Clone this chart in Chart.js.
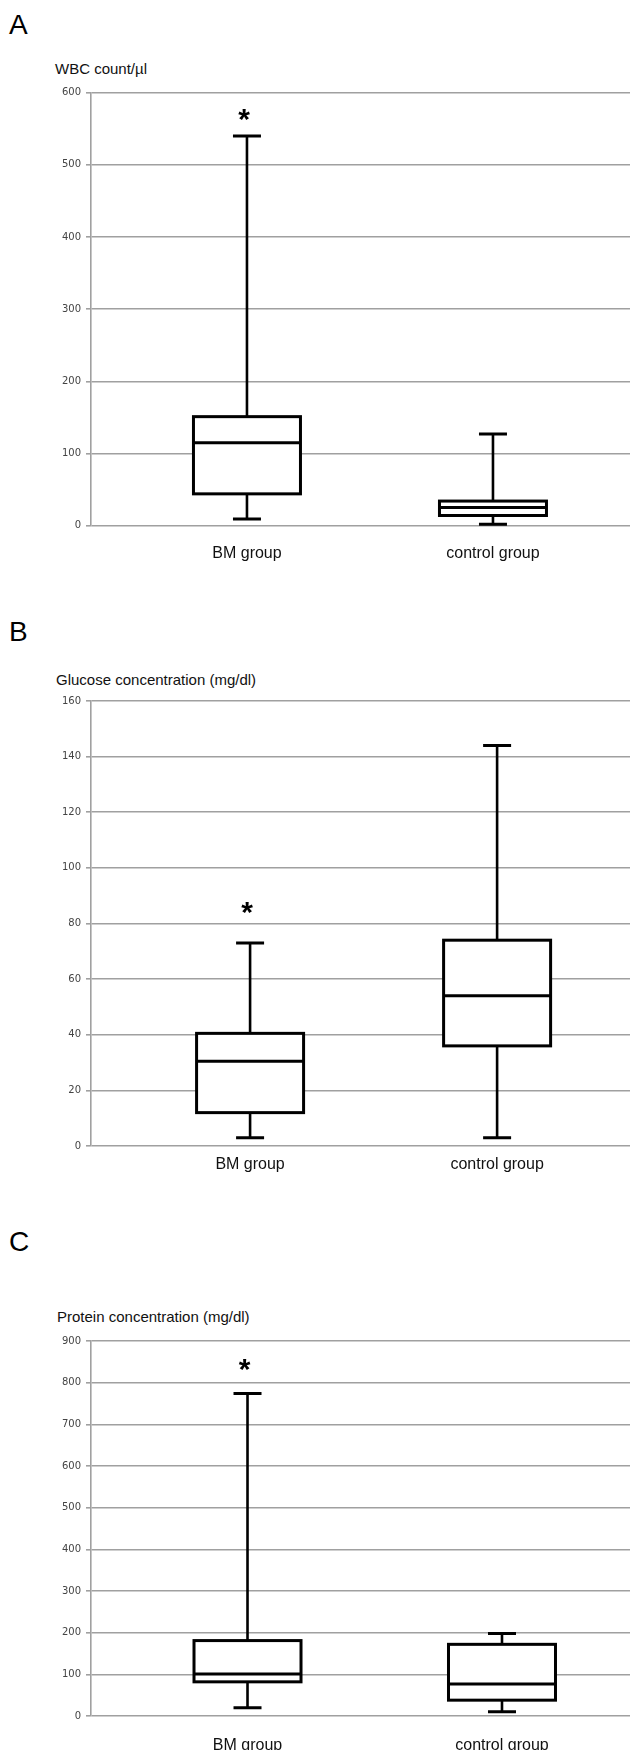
<!DOCTYPE html>
<html><head><meta charset="utf-8">
<script src="https://cdn.jsdelivr.net/npm/chart.js@4/dist/chart.umd.min.js"></script>
<style>
body{margin:0;background:#fff;width:630px;height:1750px;position:relative;overflow:hidden;font-family:"Liberation Sans",Arial,sans-serif;}
.letter{position:absolute;font-size:28px;color:#000;line-height:1;}
.ytitle{position:absolute;font-size:15px;color:#111;line-height:1;white-space:nowrap;}
canvas{position:absolute;left:0;}
</style></head><body>
<div class="letter" style="left:9px;top:11px">A</div>
<div class="ytitle" style="left:55px;top:61px">WBC count/µl</div>
<canvas id="cA" width="630" height="500" style="top:80px"></canvas>

<div class="letter" style="left:9px;top:618px">B</div>
<div class="ytitle" style="left:56px;top:672px">Glucose concentration (mg/dl)</div>
<canvas id="cB" width="630" height="500" style="top:688px"></canvas>

<div class="letter" style="left:9px;top:1228px">C</div>
<div class="ytitle" style="left:57px;top:1309px">Protein concentration (mg/dl)</div>
<canvas id="cC" width="630" height="422" style="top:1328px"></canvas>

<script>
// ---- data ----
const categories = ['BM group', 'control group'];

// Panel A: WBC count/µl
const wbcMin    = [9, 2];
const wbcQ1     = [44, 14];
const wbcMedian = [115, 25];
const wbcQ3     = [151, 34];
const wbcMax    = [540, 127];
const wbcStar   = [567, null];
const wbcTicks  = [0, 600, 100];   // min, max, step

// Panel B: Glucose concentration (mg/dl)
const gluMin    = [3, 3];
const gluQ1     = [12, 36];
const gluMedian = [30.5, 54];
const gluQ3     = [40.5, 74];
const gluMax    = [73, 144];
const gluStar   = [85, null];
const gluTicks  = [0, 160, 20];

// Panel C: Protein concentration (mg/dl)
const proMin    = [20, 10];
const proQ1     = [82, 38];
const proMedian = [101, 77];
const proQ3     = [181, 172];
const proMax    = [774, 198];
const proStar   = [838, null];
const proTicks  = [0, 900, 100];

function boxPlugin(s) {
  return {
    id: 'boxdraw',
    afterDatasetsDraw(chart) {
      const ctx = chart.ctx, xs = chart.scales.x, ys = chart.scales.y;
      ctx.save();
      ctx.strokeStyle = '#000';
      ctx.fillStyle = '#000';
      categories.forEach((c, i) => {
        const cx = xs.getPixelForValue(i);
        const half = 53.5, cap = 14;
        const pMin = ys.getPixelForValue(s.min[i]);
        const pQ1 = ys.getPixelForValue(s.q1[i]);
        const pMed = ys.getPixelForValue(s.med[i]);
        const pQ3 = ys.getPixelForValue(s.q3[i]);
        const pMax = ys.getPixelForValue(s.max[i]);
        ctx.lineWidth = 2.6;
        ctx.beginPath();
        ctx.moveTo(cx, pQ3); ctx.lineTo(cx, pMax);
        ctx.moveTo(cx, pQ1); ctx.lineTo(cx, pMin);
        ctx.stroke();
        ctx.lineWidth = 3;
        ctx.beginPath();
        ctx.moveTo(cx - cap, pMax); ctx.lineTo(cx + cap, pMax);
        ctx.moveTo(cx - cap, pMin); ctx.lineTo(cx + cap, pMin);
        ctx.stroke();
        ctx.fillStyle = '#fff';
        ctx.fillRect(cx - half, pQ3, half * 2, pQ1 - pQ3);
        ctx.strokeRect(cx - half, pQ3, half * 2, pQ1 - pQ3);
        ctx.beginPath();
        ctx.moveTo(cx - half, pMed); ctx.lineTo(cx + half, pMed);
        ctx.stroke();
        if (s.star[i] != null) {
          ctx.fillStyle = '#000';
          ctx.font = 'bold 30px "Liberation Sans", Arial, sans-serif';
          ctx.textAlign = 'center';
          ctx.textBaseline = 'alphabetic';
          ctx.fillText('*', cx - 3, ys.getPixelForValue(s.star[i]) + 12);
        }
      });
      ctx.restore();
    }
  };
}

function makeChart(id, stats, ticks, xr, padTop, xHeight, labPad) {
  new Chart(document.getElementById(id), {
    type: 'scatter',
    data: { datasets: [{ data: stats.med.map((v, i) => ({ x: i, y: v })), pointRadius: 0, showLine: false }] },
    options: {
      responsive: false, animation: false,
      layout: { padding: { top: padTop, left: 0, right: 0, bottom: 0 } },
      plugins: { legend: { display: false }, tooltip: { enabled: false } },
      scales: {
        x: {
          type: 'linear', min: xr[0], max: xr[1],
          grid: { display: false }, border: { display: false },
          afterBuildTicks: sc => { sc.ticks = categories.map((c, i) => ({ value: i })); },
          afterFit: sc => { sc.height = xHeight; },
          ticks: {
            autoSkip: false, maxRotation: 0, padding: labPad,
            color: '#111', font: { family: '"Liberation Sans", Arial, sans-serif', size: 16 },
            callback: v => categories[v] ?? ''
          }
        },
        y: {
          min: ticks[0], max: ticks[1],
          afterFit: sc => { sc.width = 91; },
          grid: { color: '#a0a0a0', lineWidth: 1.6, tickLength: 5, drawTicks: true },
          border: { display: true, color: '#a0a0a0', width: 1.6 },
          ticks: { stepSize: ticks[2], padding: 5, color: '#444', font: { family: '"DejaVu Sans", Verdana, sans-serif', size: 10 } }
        }
      }
    },
    plugins: [boxPlugin(stats)]
  });
}

makeChart('cA', { min: wbcMin, q1: wbcQ1, med: wbcMedian, q3: wbcQ3, max: wbcMax, star: wbcStar },
  wbcTicks, [-0.634, 1.557], 12.7, 54.4, 10);
makeChart('cB', { min: gluMin, q1: gluQ1, med: gluMedian, q3: gluQ3, max: gluMax, star: gluStar },
  gluTicks, [-0.644, 1.538], 13, 42, 1);
makeChart('cC', { min: proMin, q1: proQ1, med: proMedian, q3: proQ3, max: proMax, star: proStar },
  proTicks, [-0.615, 1.503], 13, 34, 12);
</script>
</body></html>
